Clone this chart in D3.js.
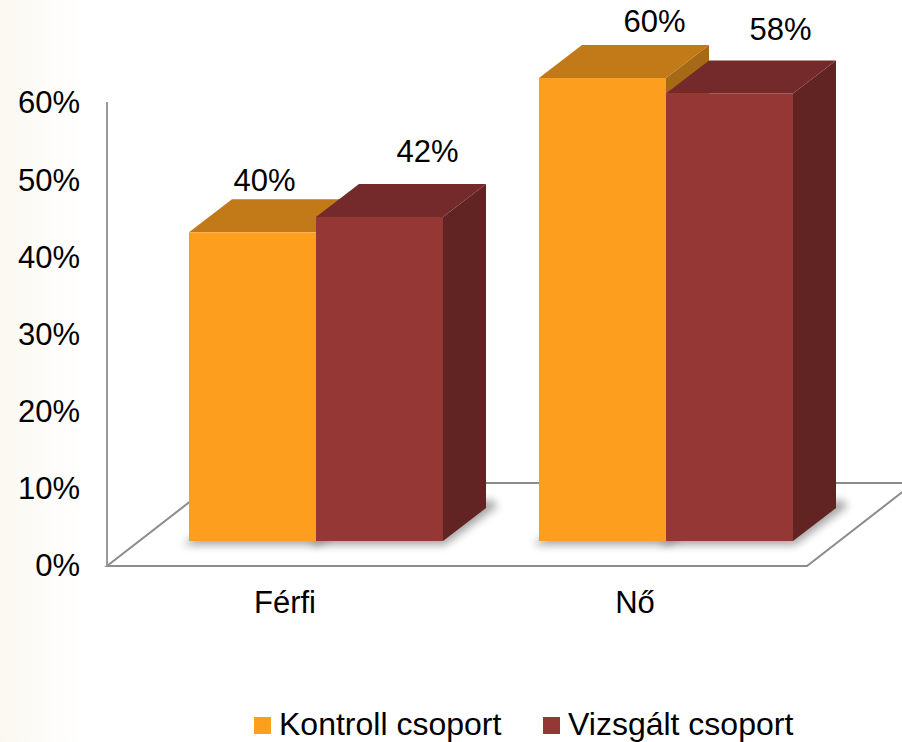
<!DOCTYPE html>
<html>
<head>
<meta charset="utf-8">
<script src="https://cdn.jsdelivr.net/npm/d3@7/dist/d3.min.js"></script>
<style>
  html, body { margin: 0; padding: 0; background: #ffffff; }
  svg { display: block; font-family: "Liberation Sans", Arial, sans-serif; }
</style>
</head>
<body>
<svg id="chart" width="902" height="742"></svg>
<script>
// ---- data ----
const categories = ["Férfi", "Nő"];
const seriesNames = ["Kontroll csoport", "Vizsgált csoport"];
const kontrollValues = [40, 60];
const vizsgaltValues = [42, 58];
const yTicks = [0, 10, 20, 30, 40, 50, 60];

// ---- styles / layout ----
const colors = [
  { front: "#fd9e1f", top: "#c17a17", side: "#a66a16" },
  { front: "#953735", top: "#742a2a", side: "#622323" }
];
const depthX = 43, depthY = -33;           // bar depth projection
const floorDX = 107, floorDY = -83;        // floor depth projection
const fontSize = 31;
// label nudges (layout only) per [category][series]
const labelShift = [[[12, -41], [48, -55]], [[52, -46], [51, -53]]];

const svg = d3.select("#chart");
const defs = svg.append("defs");

// faint cream fade on left edge
const lg = defs.append("linearGradient").attr("id", "leftFade").attr("x1", 0).attr("x2", 1);
lg.append("stop").attr("offset", 0).attr("stop-color", "#faf8f1");
lg.append("stop").attr("offset", 1).attr("stop-color", "#ffffff");
svg.append("rect").attr("x", 0).attr("y", 0).attr("width", 85).attr("height", 742).attr("fill", "url(#leftFade)");

const blur = defs.append("filter").attr("id", "shadowBlur")
  .attr("x", "-20%").attr("y", "-20%").attr("width", "140%").attr("height", "140%");
blur.append("feGaussianBlur").attr("stdDeviation", 4);

// scales
const x = d3.scaleBand().domain(categories).range([141, 841]).padding(0);
const xs = d3.scaleBand().domain(seriesNames).range([48, 302]).padding(0);
const y = d3.scaleLinear().domain([0, 60]).range([541, 78]);      // bar front plane
const yAxisScale = d3.scaleLinear().domain([0, 60]).range([566, 103]); // axis label plane

// floor
const fx0 = 107, fx1 = 807, fy = yAxisScale(0);
const floorPts = [[fx0, fy], [fx1, fy], [fx1 + floorDX, fy + floorDY], [fx0 + floorDX, fy + floorDY]];
svg.append("polygon")
  .attr("points", floorPts.map(p => p.join(",")).join(" "))
  .attr("fill", "#ffffff").attr("stroke", "#8c8c8c").attr("stroke-width", 2)
  .attr("stroke-linejoin", "miter");
// wall line
svg.append("line").attr("x1", fx0).attr("x2", fx0)
  .attr("y1", yAxisScale(60) - 1).attr("y2", fy)
  .attr("stroke", "#9a9a9a").attr("stroke-width", 2);

// y axis labels
const yAxis = d3.axisLeft(yAxisScale).tickValues(yTicks).tickFormat(d => d + "%").tickSize(0).tickPadding(0);
const yg = svg.append("g").attr("transform", "translate(80,0)").call(yAxis);
yg.select(".domain").remove();
yg.selectAll("text").attr("font-size", fontSize).attr("fill", "#000")
  .attr("font-family", "'Liberation Sans', Arial, sans-serif");

// build bar records
const valuesBySeries = [kontrollValues, vizsgaltValues];
const bars = [];
categories.forEach((c, ci) => {
  seriesNames.forEach((s, si) => {
    bars.push({ c, ci, s, si, v: valuesBySeries[si][ci] });
  });
});

function geom(b) {
  const x0 = x(b.c) + xs(b.s), x1 = x0 + xs.bandwidth();
  const yt = y(b.v), yb = y(0);
  return { x0, x1, yt, yb };
}

// shadows
svg.append("g").selectAll("polygon").data(bars).join("polygon")
  .attr("points", b => {
    const g = geom(b);
    const pts = [[g.x0 - 6, g.yb + 4], [g.x1 + 2, g.yb + 4], [g.x1 + depthX + 12, g.yb + depthY - 2],
                 [g.x1 + depthX + 6, g.yb + depthY - 8], [g.x0 + depthX, g.yb + depthY]];
    return pts.map(p => p.join(",")).join(" ");
  })
  .attr("fill", "#000").attr("opacity", 0.35).attr("filter", "url(#shadowBlur)");

// bars
const bg = svg.append("g").selectAll("g").data(bars).join("g");
bg.append("polygon").attr("fill", b => colors[b.si].side)
  .attr("points", b => {
    const g = geom(b);
    return [[g.x1, g.yt], [g.x1 + depthX, g.yt + depthY], [g.x1 + depthX, g.yb + depthY], [g.x1, g.yb]]
      .map(p => p.join(",")).join(" ");
  });
bg.append("polygon").attr("fill", b => colors[b.si].top)
  .attr("points", b => {
    const g = geom(b);
    return [[g.x0, g.yt], [g.x0 + depthX, g.yt + depthY], [g.x1 + depthX, g.yt + depthY], [g.x1, g.yt]]
      .map(p => p.join(",")).join(" ");
  });
bg.append("rect").attr("fill", b => colors[b.si].front)
  .attr("x", b => geom(b).x0).attr("y", b => geom(b).yt)
  .attr("width", xs.bandwidth()).attr("height", b => y(0) - y(b.v));

// value labels
svg.append("g").selectAll("text").data(bars).join("text")
  .attr("x", b => { const g = geom(b); return (g.x0 + g.x1) / 2 + labelShift[b.ci][b.si][0]; })
  .attr("y", b => geom(b).yt + labelShift[b.ci][b.si][1])
  .attr("text-anchor", "middle").attr("font-size", fontSize).attr("fill", "#000")
  .text(b => b.v + "%");

// category labels
svg.append("g").selectAll("text").data(categories).join("text")
  .attr("x", c => x(c) + x.bandwidth() / 2 - 31)
  .attr("y", 613)
  .attr("text-anchor", "middle").attr("font-size", fontSize).attr("fill", "#000")
  .text(c => c);

// legend
const legendX = [254, 543];
const lgd = svg.append("g").selectAll("g").data(seriesNames).join("g")
  .attr("transform", (d, i) => `translate(${legendX[i]},717)`);
lgd.append("rect").attr("width", 17).attr("height", 17).attr("fill", (d, i) => colors[i].front);
lgd.append("text").attr("x", 25).attr("y", 18).attr("font-size", 32).attr("fill", "#000").text(d => d);
</script>
</body>
</html>
